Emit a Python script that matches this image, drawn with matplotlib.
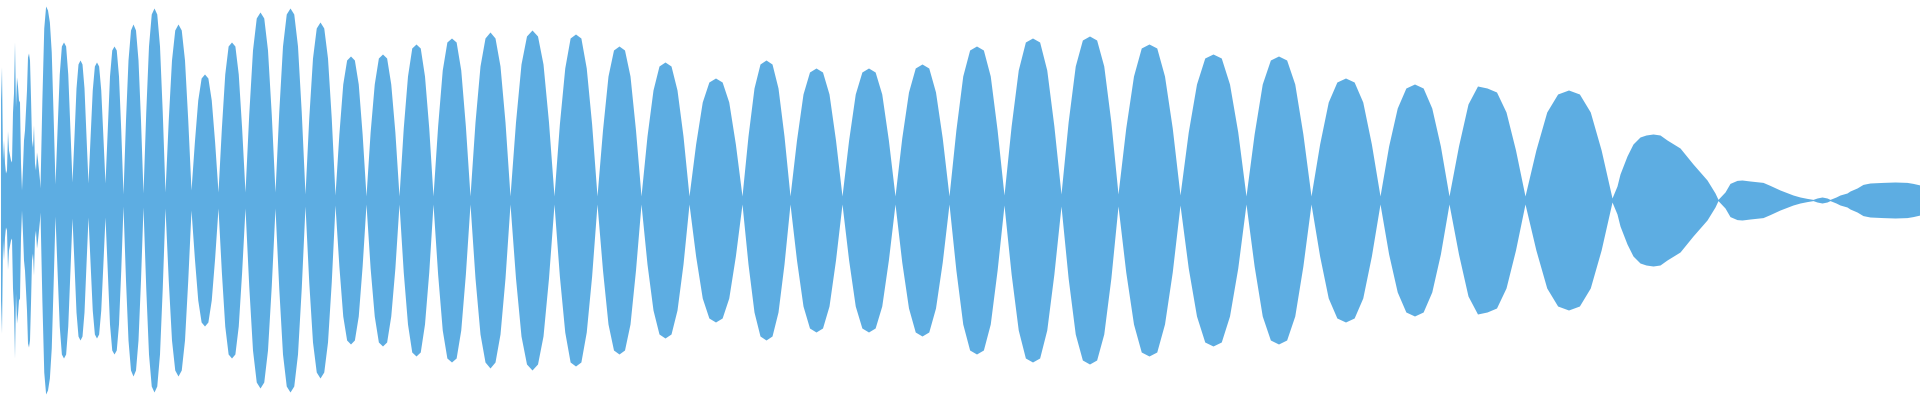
import numpy as np
import matplotlib
matplotlib.use("Agg")
import matplotlib.pyplot as plt

# waveform envelope, amplitude normalised to +-1, x in samples (0..1920)

# noisy attack at the start, one value per sample
head_amp = [0.50, 0.665, 0.20, 0.30, 0.185, 0.135, 0.15, 0.345, 0.25, 0.225,
            0.20, 0.19, 0.44, 0.535, 0.79, 0.465, 0.615, 0.57, 0.50, 0.49,
            0.185, 0.05, 0.165, 0.30, 0.35, 0.45, 0.55, 0.715, 0.735, 0.70,
            0.515, 0.30, 0.265, 0.375, 0.185, 0.15, 0.24, 0.20, 0.15, 0.10]

# zero crossings of the beating envelope
crossings = [40, 55, 72, 88, 105, 123, 143, 165, 191, 218, 245, 275, 305,
             335, 366, 399, 433, 470, 510, 554, 597, 641, 689, 742, 790,
             842, 895, 949, 1004, 1061, 1118, 1180, 1246, 1311, 1380, 1449,
             1525, 1612]

# amplitude left at each crossing
waist = [0.06, 0.08, 0.09, 0.085, 0.085, 0.03, 0.035, 0.04, 0.05, 0.04,
         0.04, 0.04, 0.03, 0.025, 0.02, 0.02, 0.02, 0.02, 0.02, 0.02,
         0.02, 0.02, 0.02, 0.02, 0.02, 0.02, 0.02, 0.02, 0.025, 0.03,
         0.03, 0.025, 0.02, 0.02, 0.02, 0.02, 0.02, 0.01]

# each lobe sampled at 1/8 .. 7/8 of the way between its crossings
lobe_amps = [
    [0.50, 0.86, 0.97, 0.95, 0.89, 0.74, 0.42],
    [0.36, 0.63, 0.77, 0.79, 0.77, 0.63, 0.36],
    [0.32, 0.56, 0.68, 0.70, 0.68, 0.56, 0.32],
    [0.32, 0.55, 0.67, 0.69, 0.67, 0.55, 0.32],
    [0.35, 0.62, 0.75, 0.77, 0.75, 0.62, 0.35],
    [0.40, 0.70, 0.85, 0.88, 0.85, 0.70, 0.40],
    [0.44, 0.77, 0.93, 0.96, 0.93, 0.77, 0.44],
    [0.40, 0.70, 0.85, 0.88, 0.85, 0.70, 0.40],
    [0.29, 0.50, 0.61, 0.63, 0.61, 0.50, 0.29],
    [0.36, 0.63, 0.77, 0.79, 0.77, 0.63, 0.36],
    [0.43, 0.75, 0.91, 0.94, 0.91, 0.75, 0.43],
    [0.44, 0.77, 0.93, 0.96, 0.93, 0.77, 0.44],
    [0.41, 0.71, 0.86, 0.89, 0.86, 0.71, 0.41],
    [0.33, 0.58, 0.70, 0.72, 0.70, 0.58, 0.33],
    [0.34, 0.58, 0.71, 0.73, 0.71, 0.58, 0.34],
    [0.36, 0.62, 0.76, 0.78, 0.76, 0.62, 0.36],
    [0.37, 0.65, 0.79, 0.81, 0.79, 0.65, 0.37],
    [0.39, 0.67, 0.81, 0.84, 0.81, 0.67, 0.39],
    [0.39, 0.68, 0.82, 0.85, 0.82, 0.68, 0.39],
    [0.38, 0.66, 0.81, 0.83, 0.81, 0.66, 0.38],
    [0.35, 0.62, 0.75, 0.77, 0.75, 0.62, 0.35],
    [0.32, 0.55, 0.67, 0.69, 0.67, 0.55, 0.32],
    [0.28, 0.49, 0.59, 0.61, 0.59, 0.49, 0.28],
    [0.32, 0.56, 0.68, 0.70, 0.68, 0.56, 0.32],
    [0.30, 0.53, 0.64, 0.66, 0.64, 0.53, 0.30],
    [0.30, 0.53, 0.64, 0.66, 0.64, 0.53, 0.30],
    [0.31, 0.54, 0.66, 0.68, 0.66, 0.54, 0.31],
    [0.35, 0.62, 0.75, 0.77, 0.75, 0.62, 0.35],
    [0.37, 0.65, 0.79, 0.81, 0.79, 0.65, 0.37],
    [0.39, 0.67, 0.80, 0.82, 0.80, 0.67, 0.39],
    [0.36, 0.62, 0.76, 0.78, 0.76, 0.62, 0.36],
    [0.34, 0.58, 0.71, 0.73, 0.71, 0.58, 0.34],
    [0.33, 0.58, 0.70, 0.72, 0.70, 0.58, 0.33],
    [0.28, 0.49, 0.59, 0.61, 0.59, 0.49, 0.28],
    [0.27, 0.46, 0.56, 0.58, 0.56, 0.46, 0.27],
    [0.27, 0.48, 0.57, 0.56, 0.54, 0.44, 0.25],
    [0.25, 0.44, 0.53, 0.55, 0.53, 0.44, 0.25],
]

# decay at the end
tail_x = [1617, 1620, 1627, 1633, 1640, 1646, 1653, 1660, 1667, 1680, 1693,
          1707, 1715, 1718, 1725, 1730, 1737, 1742, 1750, 1763, 1770, 1780,
          1793, 1800, 1807, 1813, 1817, 1822, 1827, 1830, 1836, 1840, 1847,
          1850, 1857, 1863, 1870, 1883, 1895, 1907, 1913, 1920]
tail_amp = [0.07, 0.13, 0.22, 0.28, 0.315, 0.325, 0.33, 0.325, 0.30, 0.26,
            0.18, 0.10, 0.035, 0.003, 0.04, 0.083, 0.098, 0.10, 0.095,
            0.088, 0.073, 0.05, 0.025, 0.015, 0.008, 0.003, 0.01, 0.015,
            0.01, 0.003, 0.015, 0.025, 0.035, 0.045, 0.06, 0.078, 0.085,
            0.088, 0.09, 0.088, 0.083, 0.075]

xs = list(np.arange(len(head_amp)) + 0.5)
ys = list(head_amp)
for i, prof in enumerate(lobe_amps):
    a, b = crossings[i], crossings[i + 1]
    xs.append(a)
    ys.append(waist[i])
    for k, v in enumerate(prof, 1):
        xs.append(a + (b - a) * k / 8)
        ys.append(v)
xs.append(crossings[-1])
ys.append(waist[-1])
xs += tail_x
ys += tail_amp

xs = np.array(xs)
ys = np.array(ys)

fig = plt.figure(figsize=(19.2, 4), dpi=100)
ax = fig.add_axes([0, 0, 1, 1])
ax.fill_between(xs, -ys, ys, color="#5dade2", linewidth=0)
ax.set_xlim(0, 1920)
ax.set_ylim(-1, 1)
ax.axis("off")
fig.savefig("out.png", dpi=100, facecolor="white")
